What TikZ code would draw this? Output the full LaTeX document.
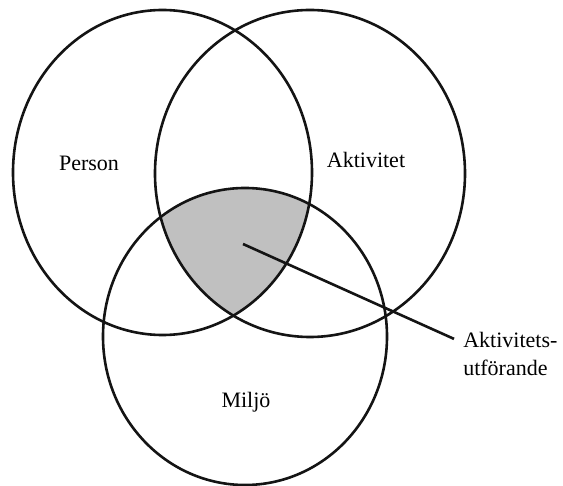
\documentclass[tikz,border=0pt]{standalone}
\usepackage{fontspec}
\setmainfont{Liberation Serif}
\usepackage{xcolor}
\definecolor{overlapgrey}{RGB}{192, 192, 192}
\definecolor{inkblack}{RGB}{20, 20, 20}
\usetikzlibrary{positioning}

\begin{document}
\begin{tikzpicture}[x=0.5pt, y=-0.5pt, line width=1.3pt, draw=inkblack,
  font=\fontsize{11}{14}\selectfont]

  \useasboundingbox (0,0) rectangle (563,486);

  % the three domains
  \def\personshape{(162.5,172.5) ellipse [x radius=149.5, y radius=162.5]}
  \def\aktivshape{(310,173.5) ellipse [x radius=155, y radius=163.5]}
  \def\miljoshape{(245,336.5) ellipse [x radius=142, y radius=148.5]}

  % shared region of all three
  \begin{scope}
    \clip \personshape;
    \clip \aktivshape;
    \fill[overlapgrey] \miljoshape;
  \end{scope}

  \draw[inkblack] \personshape;
  \draw[inkblack] \aktivshape;
  \draw[inkblack] \miljoshape;

  % domain labels
  \node (personLabel) at (89,163) {Person};
  \node (aktivLabel) at (366,160) {Aktivitet};
  \node (miljoLabel) at (246,402) {Milj\"o};

  % pointer to the shared region
  \coordinate (core) at (243,244);
  \node[align=left, anchor=west, inner sep=4pt] (performLabel) at (454,354)
    {Aktivitets-\\utf\"orande};
  \draw[inkblack] (core) -- (performLabel.165);
\end{tikzpicture}
\end{document}
